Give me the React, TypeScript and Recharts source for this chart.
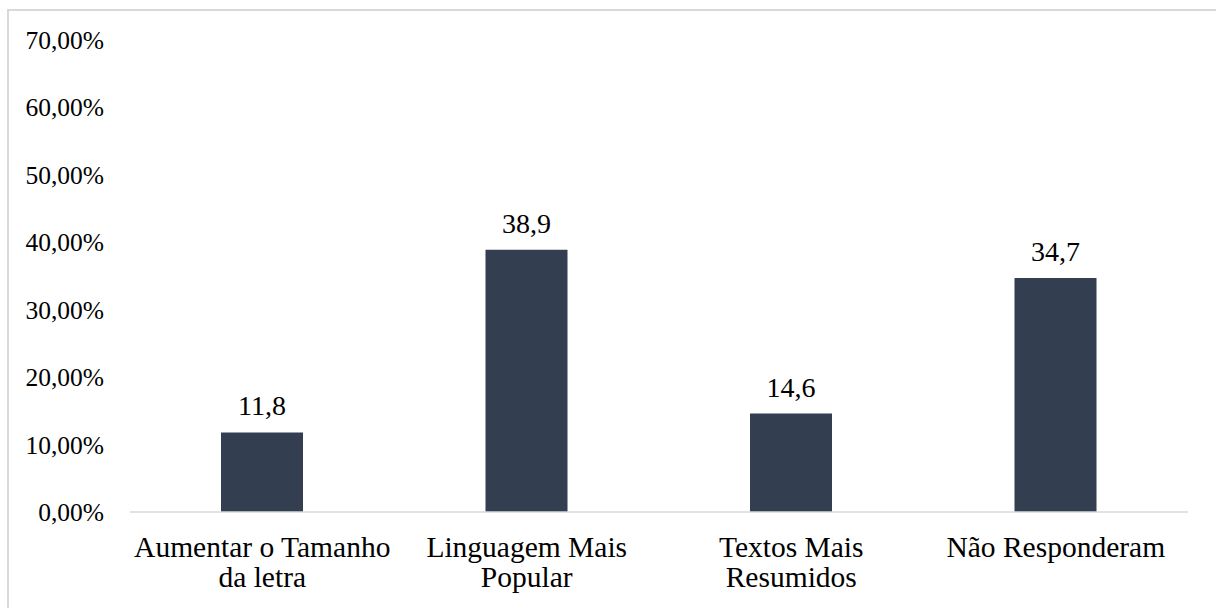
import React from "react";
import { BarChart, Bar, XAxis, YAxis, LabelList } from "recharts";

const categories = ["Aumentar o Tamanho|da letra", "Linguagem Mais|Popular", "Textos Mais|Resumidos", "Não Responderam"];
const values = [11.8, 38.9, 14.6, 34.7];
const yTicks = [0, 10, 20, 30, 40, 50, 60, 70];

const data = categories.map((c, i) => ({ name: c, value: values[i] }));

const FONT = "Liberation Serif, Tinos, Times New Roman, DejaVu Serif";

const CategoryTick = (props: any) => {
  const { x, y, payload } = props;
  const lines = String(payload.value).split("|");
  return (
    <text x={x} y={y} textAnchor="middle" style={{ fontFamily: FONT, fontSize: 29.5, fill: "#000" }}>
      {lines.map((l: string, i: number) => (
        <tspan key={i} x={x} dy={i === 0 ? 37 : 30}>
          {l}
        </tspan>
      ))}
    </text>
  );
};

export default function App() {
  return (
    <div style={{ position: "absolute", left: 0, top: 0, width: 1216, height: 608, background: "#fff", overflow: "hidden", fontFamily: FONT }}>
      <div
        style={{
          position: "absolute",
          left: 7,
          top: 9,
          width: 1300,
          height: 700,
          borderTop: "2px solid #d9d9d9",
          borderLeft: "2px solid #d9d9d9",
        }}
      />
      <div style={{ position: "absolute", left: 0, top: 0 }}>
        <BarChart width={1216} height={608} data={data} margin={{ top: 40, right: 28, bottom: 0, left: 0 }} barSize={82}>
          <XAxis
            dataKey="name"
            axisLine={{ stroke: "#d9d9d9", strokeWidth: 1.5 }}
            tickLine={false}
            tick={<CategoryTick />}
            interval={0}
            height={96}
          />
          <YAxis
            domain={[0, 70]}
            ticks={yTicks}
            width={130}
            axisLine={false}
            tickLine={false}
            tickSize={0}
            tickMargin={26}
            tickFormatter={(v: number) => v.toFixed(2).replace(".", ",") + "%"}
            tick={{ style: { fontFamily: FONT, fontSize: 25.5 }, fill: "#000" }}
          />
          <Bar dataKey="value" fill="#333f50" isAnimationActive={false}>
            <LabelList
              dataKey="value"
              position="top"
              offset={17}
              formatter={(v: any) => String(v).replace(".", ",")}
              style={{ fontFamily: FONT, fontSize: 28, fill: "#000" }}
            />
          </Bar>
        </BarChart>
      </div>
    </div>
  );
}
